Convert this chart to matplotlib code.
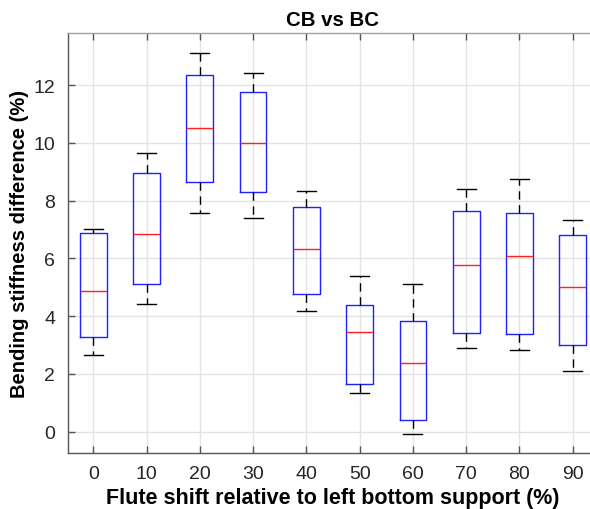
import matplotlib
matplotlib.use("Agg")
import matplotlib.pyplot as plt

categories = ["0", "10", "20", "30", "40", "50", "60", "70", "80", "90"]
whisker_low = [2.66, 4.42, 7.59, 7.40, 4.17, 1.35, -0.08, 2.89, 2.84, 2.11]
q1 = [3.29, 5.13, 8.65, 8.31, 4.78, 1.64, 0.39, 3.43, 3.38, 3.00]
median = [4.87, 6.84, 10.53, 10.01, 6.33, 3.45, 2.38, 5.77, 6.10, 5.01]
q3 = [6.89, 8.95, 12.34, 11.78, 7.78, 4.40, 3.83, 7.63, 7.56, 6.80]
whisker_high = [7.01, 9.66, 13.12, 12.41, 8.33, 5.40, 5.13, 8.42, 8.76, 7.32]

plt.rcParams['font.family'] = ['Liberation Sans', 'DejaVu Sans']

W, H = 590, 510
fig = plt.figure(figsize=(W / 100, H / 100), dpi=100)
left, right, top, bottom = 67.7, 598.3, 34, 454
ax = fig.add_axes([left / W, 1 - bottom / H, (right - left) / W, (bottom - top) / H])

stats = []
for i, c in enumerate(categories):
    stats.append(dict(label=c, whislo=whisker_low[i], q1=q1[i], med=median[i],
                      q3=q3[i], whishi=whisker_high[i], fliers=[]))

pos = list(range(len(categories)))
bp = ax.bxp(stats, positions=pos, widths=0.5, showfliers=False, patch_artist=False,
            boxprops=dict(color='#2020ff', linewidth=1.0),
            medianprops=dict(color='#ff2020', linewidth=1.0),
            whiskerprops=dict(color='black', linewidth=1.0, linestyle=(0, (6, 4))),
            capprops=dict(color='black', linewidth=1.0), capwidths=0.36)

ax.set_xlim(-0.48, 9.48)
ax.set_ylim(-0.74, 13.81)
ax.set_yticks([0, 2, 4, 6, 8, 10, 12])
ax.set_xticks(pos)
ax.set_xticklabels(categories)

ax.grid(True, color='#e3e3e3', linewidth=1.0)
ax.set_axisbelow(True)
for s in ax.spines.values():
    s.set_color('#555555')
    s.set_linewidth(1.0)
ax.spines['top'].set_color('#a0a0a0')
ax.tick_params(direction='in', length=5, width=1, colors='#555555', labelcolor='#262626',
               labelsize=14, top=True, right=True, pad=9)

ax.set_title('CB vs BC', fontsize=14.7, fontweight='bold', pad=6)
ax.set_xlabel('Flute shift relative to left bottom support (%)', fontsize=15.5,
              fontweight='bold', labelpad=3)
ax.set_ylabel('Bending stiffness difference (%)', fontsize=14.5, fontweight='bold',
              labelpad=3)

fig.savefig('out.png', dpi=100)
